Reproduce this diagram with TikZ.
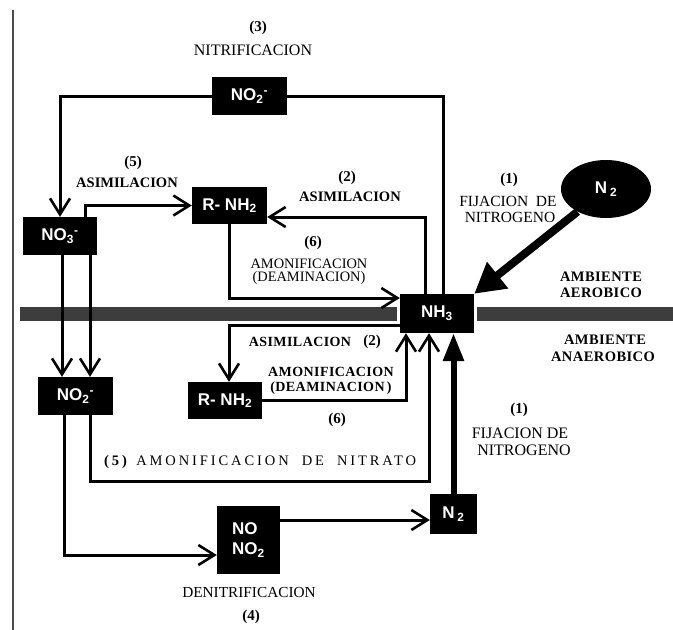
\documentclass[tikz,border=0pt]{standalone}
\usepackage{fontspec}
\setmainfont{Liberation Serif}
\setsansfont{Liberation Sans}
\newfontfamily\trk{Liberation Serif}[LetterSpace=3]
\newfontfamily\wide{Liberation Serif}[LetterSpace=20]
\usetikzlibrary{arrows.meta,shapes.geometric}
\begin{document}
\begin{tikzpicture}[x=1pt,y=-1pt,
  box/.style={fill=black,text=white,font=\sffamily\bfseries\fontsize{17}{20}\selectfont,inner sep=0pt,minimum height=38pt,minimum width=75pt},
  lab/.style={font=\rmfamily\fontsize{#1}{#1}\selectfont,inner sep=0pt,align=center},
  lab/.default=15,
  blab/.style={font=\rmfamily\bfseries\fontsize{#1}{#1}\selectfont,inner sep=0pt,align=center},
  blab/.default=14.5,
  tblab/.style={font=\trk\bfseries\fontsize{#1}{#1}\selectfont,inner sep=0pt,align=center},
  tblab/.default=14,
  conn/.style={line width=3pt},
  arr/.style={conn,-{Straight Barb[length=16pt,width=20pt,line width=2.6pt]}},
  thickarr/.style={line width=6pt,-{Triangle[length=28pt,width=20pt]}},
  bigarr/.style={line width=8pt,-{Triangle[length=30pt,width=32pt]}},
  band/.style={fill=black!76,draw=none}
]
\useasboundingbox (0,0) rectangle (673,630);
\fill[white] (0,0) rectangle (673,630);
% left border line
\draw[black!70,line width=1.3pt] (13,10) -- (13,630);
% gray band
\fill[band] (20,307) rectangle (397,321);
\fill[band] (477,307) rectangle (673,321);

% nodes
\node[box] (no2top) at (249.5,96) {NO\textsubscript{2}\textsuperscript{-}};
\node[box,minimum width=74pt] (no3) at (60,236) {NO\textsubscript{3}\textsuperscript{-}};
\node[box,minimum height=37pt] (rnh2a) at (229.5,205.5) {R- NH\textsubscript{2}};
\node[box,minimum width=74pt,minimum height=39pt] (nh3) at (437,313.5) {NH\textsubscript{3}};
\node[box,minimum width=74pt,minimum height=37pt] (rnh2b) at (225,400.5) {R- NH\textsubscript{2}};
\node[box] (no2b) at (75.5,396) {NO\textsubscript{2}\textsuperscript{-}};
\node[box,minimum width=63pt,minimum height=68pt,align=left] (nono2) at (248.5,540) {NO\\NO\textsubscript{2}};
\node[box,minimum width=47pt,minimum height=40pt] (n2b) at (453.5,514) {N\,\textsubscript{2}};
\node[ellipse,fill=black,text=white,font=\sffamily\bfseries\fontsize{17}{20}\selectfont,inner sep=0pt,minimum width=90pt,minimum height=58pt] (n2a) at (606,189) {N\,\textsubscript{2}};

% coordinates
\coordinate (c5) at (429,481);

% connectors
\draw[arr] (no2top.west) -| (no3.north);
\draw[conn] (no2top.east) -| ([xshift=6pt]nh3.north);
\draw[arr] ([xshift=25pt]no3.north) |- (rnh2a.west);
\draw[arr] ([xshift=-12pt]nh3.north) |- ([yshift=-11.5pt]rnh2a.east);
\draw[arr] (rnh2a.south) |- ([yshift=15.5pt]nh3.west);
\draw[arr] ([yshift=-11.5pt]nh3.west) -| ([xshift=4pt]rnh2b.north);
\draw[arr] (rnh2b.east) -| ([xshift=-31pt]nh3.south);
\draw[arr] ([xshift=2pt]no3.south) -- ([xshift=2pt]no3.south |- no2b.north);
\draw[arr] ([xshift=30pt]no3.south) -- ([xshift=30pt]no3.south |- no2b.north);
\draw[arr] ([xshift=14.5pt]no2b.south) |- (c5) -- ([xshift=-8pt]nh3.south);
\draw[arr] ([xshift=-11.5pt]no2b.south) |- ([yshift=-15pt]nono2.west);
\draw[arr] ([yshift=20pt]nono2.east) -- ([yshift=20pt]nono2.east -| n2b.west);
\draw[thickarr] (n2b.north) -- (n2b.north |- nh3.south);
\draw[bigarr] (n2a) -- (nh3.north east);

% labels
\node[blab=15] (l3) at (258,28) {(3)};
\node[lab=16] (lnit) at (253,50) {NITRIFICACION};
\node[blab=15] (l5a) at (133,163) {(5)};
\node[blab] (las1) at (127,183) {ASIMILACION};
\node[blab=15] (l2a) at (347,178) {(2)};
\node[blab] (las2) at (350,197) {ASIMILACION};
\node[blab=15] (l6a) at (313,243) {(6)};
\node[lab,font=\rmfamily\fontsize{14.4}{13.5}\selectfont] (lam1) at (309,272) {AMONIFICACION\\(DEAMINACION)};
\node[blab=15] (l1a) at (509,180) {(1)};
\node[lab=15.5] (lfij1) at (508,201) {FIJACION\ \ DE};
\node[lab=15.5] (lnitro1) at (510,217) {NITROGENO};
\node[tblab=14.5] (lamb1) at (601,277) {AMBIENTE};
\node[tblab=14.5] (laer) at (601,293) {AEROBICO};
\node[tblab=14.5] (lamb2) at (605,340) {AMBIENTE};
\node[tblab=14.5] (lana) at (603,357) {ANAEROBICO};
\node[tblab] (las3) at (300,342) {ASIMILACION};
\node[blab=15] (l2b) at (372,342) {(2)};
\node[tblab,font=\trk\bfseries\fontsize{14}{15}\selectfont] (lam2) at (331,380.5) {AMONIFICACION\\(DEAMINACION\,)};
\node[blab=15] (l6b) at (337,420) {(6)};
\node[blab=15] (l1b) at (519,410) {(1)};
\node[lab=16] (lfij2) at (520,433) {FIJACION DE};
\node[lab=16] (lnitro2) at (524,450) {NITROGENO};
\node[lab,font=\wide\fontsize{14.5}{15}\selectfont,anchor=west] (l5b) at (104,462) {\textbf{(5)} AMONIFICACION\ \ DE\ \ NITRATO};
\node[lab=15.3] (lden) at (249,593) {DENITRIFICACION};
\node[blab=15] (l4) at (251,617) {(4)};
\end{tikzpicture}
\end{document}
